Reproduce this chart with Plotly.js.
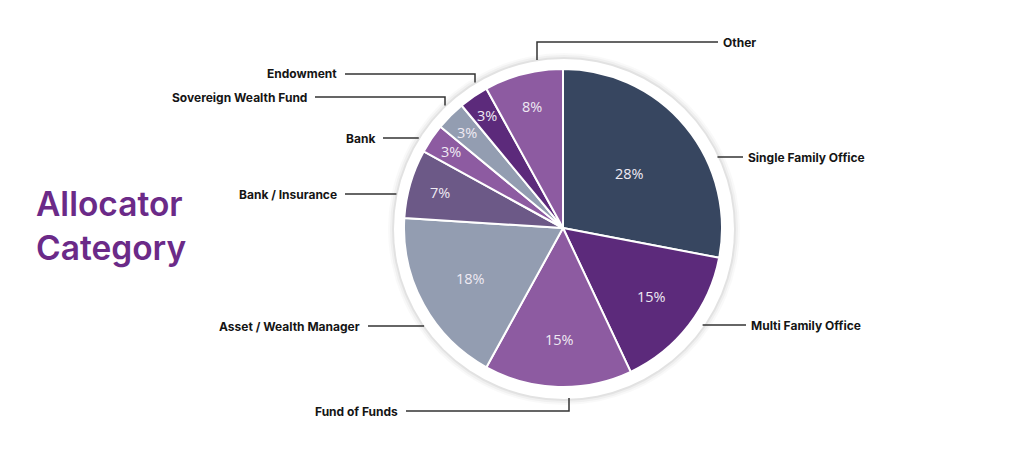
<!DOCTYPE html>
<html><head><meta charset="utf-8">
<script src="https://cdn.plot.ly/plotly-3.0.1.min.js"></script>
<style>html,body{margin:0;padding:0;background:#fff;}#chart{width:1024px;height:455px;}</style>
</head><body><div id="chart"></div>
<script>
// ---- data ----
const categories = ["Single Family Office","Multi Family Office","Fund of Funds","Asset / Wealth Manager","Bank / Insurance","Bank","Sovereign Wealth Fund","Endowment","Other"];
const shares = [28, 15, 15, 18, 7, 3, 3, 3, 8];
const sliceColors = ["#374660","#5c2a7b","#8d5ba1","#939db1","#6c5987","#8d5ba1","#939db1","#5c2a7b","#8d5ba1"];
const titleText = "Allocator<br>Category";

// ---- layout constants (pixels) ----
const W = 1024, H = 455;
const CX = 563, CY = 228, R = 159, RING = 170;
const labelLayout = {
  "Single Family Office":   {side:"r", ty:157, lx1:743},
  "Multi Family Office":    {side:"r", ty:325, lx1:746},
  "Fund of Funds":          {side:"l", ty:411, lx0:406, elbowX:569},
  "Asset / Wealth Manager": {side:"l", ty:326, lx0:368},
  "Bank / Insurance":       {side:"l", ty:194, lx0:345},
  "Bank":                   {side:"l", ty:138, lx0:383},
  "Sovereign Wealth Fund":  {side:"l", ty:97,  lx0:315, elbowX:445},
  "Endowment":              {side:"l", ty:74,  lx0:345, elbowX:475},
  "Other":                  {side:"r", ty:42,  lx1:718, elbowX:537}
};

const px = x => x / W, py = y => 1 - y / H;
const total = shares.reduce((a,b)=>a+b,0);

const shapes = [];
[[176,"rgba(0,0,0,0.025)"],[174,"rgba(0,0,0,0.035)"],[172,"rgba(0,0,0,0.055)"],[170,"#ffffff"]].forEach(([r,c])=>{
  shapes.push({type:"circle", layer:"below", xref:"paper", yref:"paper",
    xsizemode:"pixel", ysizemode:"pixel", xanchor:px(CX+1), yanchor:py(CY+1),
    x0:-r, x1:r, y0:-r, y1:r, fillcolor:c, line:{width:0}});
});

const annotations = [];
let cum = 0;
shares.forEach((v,i)=>{
  const p = v/total;
  const mid = (cum + v/2)/total * 2*Math.PI;
  cum += v;
  const f = 0.89 - 1.25*p;
  const x = CX + R*f*Math.sin(mid), y = CY - R*f*Math.cos(mid);
  annotations.push({xref:"paper", yref:"paper", x:px(x), y:py(y), showarrow:false,
    text: v + "%", font:{family:"Open Sans", size:14.5, color:"#efeaf3"}, xanchor:"center", yanchor:"middle"});
});

categories.forEach((c)=>{
  const L = labelLayout[c];
  let path;
  if (L.elbowX !== undefined) {
    const dx = L.elbowX - CX;
    const sgn = L.ty < CY ? -1 : 1;
    const yEnd = CY + sgn*Math.sqrt(RING*RING - dx*dx);
    const xStart = L.side === "l" ? L.lx0 : L.lx1;
    path = `M${px(xStart)},${py(L.ty)} L${px(L.elbowX)},${py(L.ty)} L${px(L.elbowX)},${py(yEnd)}`;
  } else {
    const dy = L.ty - CY;
    const sgn = L.side === "l" ? -1 : 1;
    const xEnd = CX + sgn*Math.sqrt(RING*RING - dy*dy);
    const xStart = L.side === "l" ? L.lx0 : L.lx1;
    path = `M${px(xStart)},${py(L.ty)} L${px(xEnd)},${py(L.ty)}`;
  }
  shapes.push({type:"path", xref:"paper", yref:"paper", path:path, line:{color:"#333333", width:1.5}});
  const tx = L.side === "l" ? (L.lx0 - 6) : (L.lx1 + 3);
  annotations.push({xref:"paper", yref:"paper", x:px(tx), y:py(L.ty), showarrow:false,
    text:c, xanchor: L.side === "l" ? "right" : "left", yanchor:"middle",
    font:{family:"Inter", size:12, color:"#151515", weight:700}});
});

annotations.push({xref:"paper", yref:"paper", x:px(34), y:py(226), showarrow:false,
  text:titleText, xanchor:"left", yanchor:"middle", align:"left",
  font:{family:"Inter", size:33.5, color:"#6b2a88", weight:600}});

const trace = {
  type:"pie", labels:categories, values:shares, sort:false, direction:"clockwise", rotation:0,
  marker:{colors:sliceColors, line:{color:"#ffffff", width:2}},
  textinfo:"none", hoverinfo:"label+percent", showlegend:false,
  domain:{x:[px(CX-R), px(CX+R)], y:[py(CY+R), py(CY-R)]}
};

const layout = {
  width:W, height:H, margin:{l:0,r:0,t:0,b:0},
  paper_bgcolor:"#ffffff", plot_bgcolor:"#ffffff",
  showlegend:false, shapes:shapes, annotations:annotations
};
Plotly.newPlot("chart", [trace], layout, {displayModeBar:false, staticPlot:true});
</script>
</body></html>
